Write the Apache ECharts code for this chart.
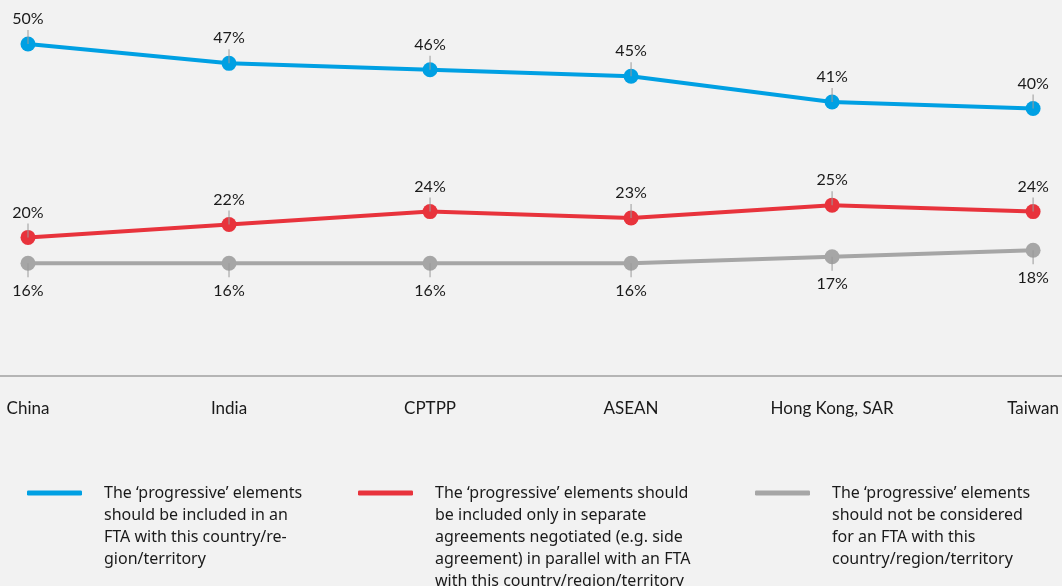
<!DOCTYPE html>
<html>
<head>
<meta charset="utf-8">
<script src="https://cdn.jsdelivr.net/npm/echarts@6/dist/echarts.min.js"></script>
<style>
  html, body { margin: 0; padding: 0; background: #f2f2f2; }
  #chart { width: 1062px; height: 586px; }
</style>
</head>
<body>
<div id="chart"></div>
<script>
const categories = ['China', 'India', 'CPTPP', 'ASEAN', 'Hong Kong, SAR', 'Taiwan']
const includedInFta = [50, 47, 46, 45, 41, 40]
const separateAgreements = [20, 22, 24, 23, 25, 24]
const notConsidered = [16, 16, 16, 16, 17, 18]

const names = [
  'The \u2018progressive\u2019 elements\nshould be included in an\nFTA with this country/re-\ngion/territory',
  'The \u2018progressive\u2019 elements should\nbe included only in separate\nagreements negotiated (e.g. side\nagreement) in parallel with an FTA\nwith this country/region/territory',
  'The \u2018progressive\u2019 elements\nshould not be considered\nfor an FTA with this\ncountry/region/territory'
]
const colors = ['#00a0e3', '#e8333c', '#a6a6a6']
const font = 'Lato, "Noto Sans", sans-serif'

// label with a little grey tick pointing at the dot
function topLabel (p) { return '{v|' + p.value + '%}\n{t|}' }
function bottomLabel (p) { return '{t|}\n{b|' + p.value + '%}' }
const rich = {
  v: { fontSize: 16, lineHeight: 22, color: '#1a1a1a', fontFamily: font },
  b: { fontSize: 16, lineHeight: 27, color: '#1a1a1a', fontFamily: font },
  t: { width: 1, height: 14, backgroundColor: '#9a9a9a' }
}

function makeSeries (name, data, color, above) {
  return {
    name: name,
    type: 'line',
    data: data,
    symbol: 'circle',
    symbolSize: 15,
    lineStyle: { width: 4, color: color },
    itemStyle: { color: color },
    label: {
      show: true,
      position: above ? 'top' : 'bottom',
      distance: -7.5,
      formatter: above ? topLabel : bottomLabel,
      rich: rich
    },
    emphasis: { disabled: true }
  }
}

// blank lines on top so the first text line sits level with the icon
function makeLegend (name, left, top, lines) {
  const pad = '\n'.repeat(lines - 1)
  return {
    left: left,
    top: top,
    padding: 0,
    icon: 'roundRect',
    itemWidth: 55,
    itemHeight: 5,
    itemStyle: { borderWidth: 0 },
    selectedMode: false,
    formatter: function (n) { return pad + n },
    data: [{
      name: name,
      textStyle: {
        fontSize: 16,
        lineHeight: 22,
        color: '#1a1a1a',
        fontFamily: '"Noto Sans", sans-serif',
        padding: [0, 0, 0, 17]
      }
    }]
  }
}

const chart = echarts.init(document.getElementById('chart'))
chart.setOption({
  backgroundColor: '#f2f2f2',
  animation: false,
  grid: { left: 28, right: 27, top: 44, bottom: 210 },
  xAxis: {
    type: 'category',
    data: categories,
    boundaryGap: false,
    axisLine: { show: false },
    axisTick: { show: false },
    axisLabel: { margin: 24, fontSize: 17, color: '#1a1a1a', fontFamily: font }
  },
  yAxis: { type: 'value', min: -1.5, max: 50, show: false },
  legend: [
    makeLegend(names[0], 27, 416, 4),
    makeLegend(names[1], 358, 394, 5),
    makeLegend(names[2], 755, 416, 4)
  ],
  graphic: [{
    type: 'line',
    shape: { x1: 0, y1: 376, x2: 1062, y2: 376 },
    style: { stroke: '#a0a0a0', lineWidth: 1.5 }
  }],
  series: [
    makeSeries(names[0], includedInFta, colors[0], true),
    makeSeries(names[1], separateAgreements, colors[1], true),
    makeSeries(names[2], notConsidered, colors[2], false)
  ]
})
</script>
</body>
</html>
